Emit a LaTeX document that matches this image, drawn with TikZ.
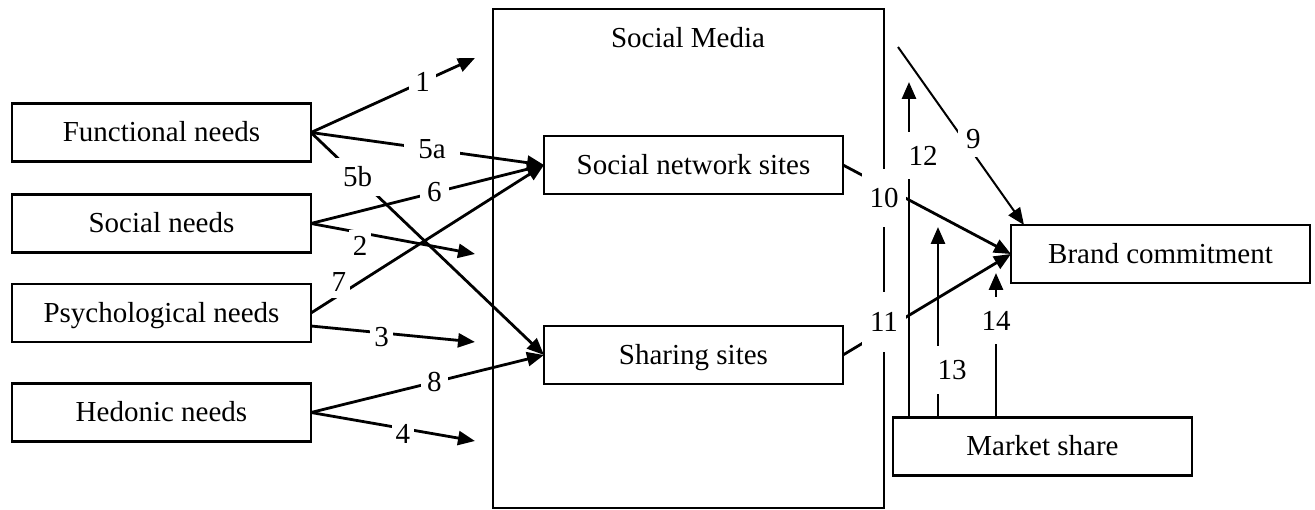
\documentclass[tikz,border=0pt]{standalone}
\usepackage{fontspec}
\setmainfont{Liberation Serif}
\usetikzlibrary{arrows.meta,calc}
\begin{document}
\begin{tikzpicture}[x=1pt,y=-1pt,
  txt/.style={font=\fontsize{29}{34}\selectfont},
  box/.style={txt, draw, line width=2.4pt, minimum width=299pt, minimum height=58pt,
    inner sep=0pt, outer sep=0pt, text height=19.5pt, text depth=0.5pt},
  arr/.style={line width=2.8pt, -{Triangle[length=17pt,width=14pt]}},
  lab/.style={txt, fill=white, inner sep=4pt}]
\useasboundingbox (0,0) rectangle (1315,510);

% boxes
\node[box] (F) at (161.5,132.5) {Functional needs};
\node[box] (S) at (161.5,223.5) {Social needs};
\node[box] (P) at (161.5,313) {Psychological needs};
\node[box] (H) at (161.5,412.5) {Hedonic needs};
\node[draw, line width=2.4pt, minimum width=391pt, minimum height=499pt,
  inner sep=0pt, outer sep=0pt] (SM) at (688.5,258.5) {};
\node[txt] (SMt) at (688,38) {Social Media};
\node[box] (SNS) at (693.5,165) {Social network sites};
\node[box] (SS) at (693.5,355) {Sharing sites};
\node[box] (BC) at (1160.5,254) {Brand commitment};
\node[box] (MS) at (1042.5,446.5) {Market share};

% free arrow ends
\coordinate (c1) at (475,58);
\coordinate (c2) at (475,254);
\coordinate (c3) at (475,342);
\coordinate (c4) at (475,441);
\coordinate (c9) at (898,47);
\coordinate (c12) at (909,82);
\coordinate (c13) at (938,227);
\coordinate (c14) at (996,273);

% left arrows
\draw[arr] (F.east) -- node[lab,pos=0.68,inner xsep=6pt]{1} (c1);
\draw[arr] (F.east) -- node[lab,pos=0.52,inner xsep=14pt]{5a} (SNS.west);
\draw[arr] (F.east) -- node[lab,pos=0.2,inner sep=9pt]{5b} (SS.west);
\draw[arr] (S.east) -- node[lab,pos=0.53,inner xsep=7pt]{6} (SNS.west);
\draw[arr] (S.east) -- node[lab,pos=0.3,anchor=north,yshift=4pt,inner ysep=6pt]{2} (c2);
\draw[arr] (P.east) -- node[lab,pos=0.12,anchor=south,yshift=-4pt,inner ysep=6pt]{7} (SNS.west);
\draw[arr] ($(P.east)+(0,13)$) -- node[lab,pos=0.43,yshift=-4pt]{3} (c3);
\draw[arr] (H.east) -- node[lab,pos=0.53,inner xsep=6pt]{8} (SS.west);
\draw[arr] (H.east) -- node[lab,pos=0.56,yshift=-5pt]{4} (c4);

% right arrows
\draw[arr,line width=2pt] (c9) -- node[lab,pos=0.55,xshift=6pt,yshift=6pt,inner sep=8pt]{9} ($(BC.north west)+(13,0)$);
\draw[arr] (SNS.east) -- node[lab,pos=0.244,yshift=-11pt,minimum width=44pt,minimum height=58pt,inner sep=0pt]{10} (BC.west);
\draw[arr] (SS.east) -- node[lab,pos=0.244,yshift=8pt,minimum width=44pt,minimum height=60pt,inner sep=0pt]{11} (BC.west);
\draw[arr] ($(MS.north west)+(16,0)$) -- node[lab,pos=0.78,xshift=14pt,inner ysep=14pt]{12} (c12);
\draw[arr] ($(MS.north west)+(45,0)$) -- node[lab,pos=0.25,xshift=14pt,inner ysep=14pt]{13} (c13);
\draw[arr] ($(MS.north west)+(103,0)$) -- node[lab,pos=0.67,inner ysep=14pt]{14} (c14);
\end{tikzpicture}
\end{document}
